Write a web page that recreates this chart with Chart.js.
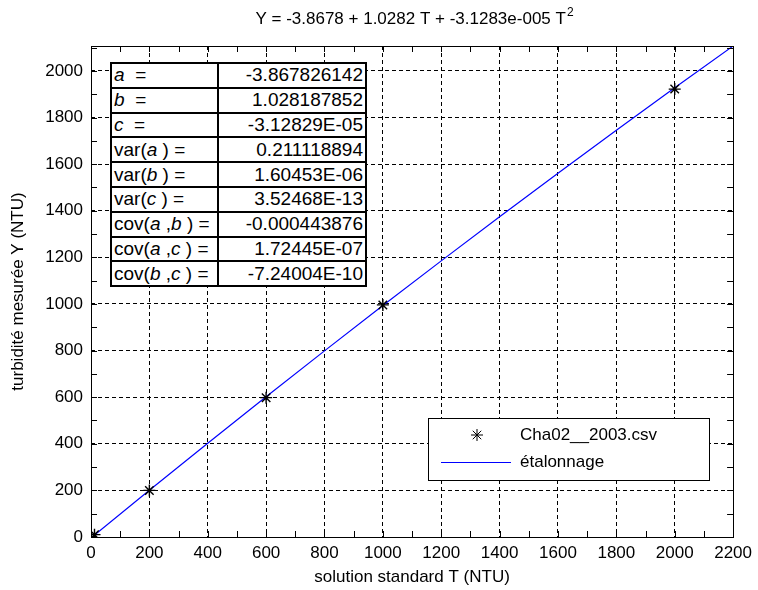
<!DOCTYPE html>
<html>
<head>
<meta charset="utf-8">
<script src="https://cdn.jsdelivr.net/npm/chart.js@4.4.0/dist/chart.umd.min.js"></script>
<style>
  body { margin: 0; background: #fff; }
  #wrap { position: relative; width: 758px; height: 590px; }
  #coefTable {
    position: absolute; left: 110px; top: 62px;
    border-collapse: collapse; background: #fff;
    font-family: Arial, "Liberation Sans", sans-serif; font-size: 19px; color: #000;
  }
  #coefTable td { border: 2px solid #000; height: 22.8px; padding: 0 2px; line-height: 22px; white-space: nowrap; }
  #coefTable td.lbl { width: 101px; text-align: left; }
  #coefTable td.val { width: 142px; text-align: right; }
</style>
</head>
<body>
<div id="wrap">
  <canvas id="calib" width="758" height="590"></canvas>
  <table id="coefTable"></table>
</div>
<script>
(() => {
// Calibration measurements
const calT = [12, 200, 600, 1000, 2000];
const calY = [10, 200, 598, 996, 1922];

// Fitted curve (étalonnage)
const fitT = [0, 200, 400, 600, 800, 1000, 1200, 1400, 1600, 1800, 2000, 2200];
const fitY = [-3.9, 200.5, 402.4, 601.8, 798.7, 993.0, 1184.9, 1374.3, 1561.2, 1745.5, 1927.4, 2106.7];

const xTickLabels = ["0", "200", "400", "600", "800", "1000", "1200", "1400", "1600", "1800", "2000", "2200"];
const yTickLabels = ["0", "200", "400", "600", "800", "1000", "1200", "1400", "1600", "1800", "2000"];

// Coefficient table
const paramNames = ["a", "b", "c", "var(a)", "var(b)", "var(c)", "cov(a,b)", "cov(a,c)", "cov(b,c)"];
const paramValues = ["-3.867826142", "1.028187852", "-3.12829E-05", "0.211118894", "1.60453E-06",
  "3.52468E-13", "-0.000443876", "1.72445E-07", "-7.24004E-10"];

const titleText = "Y = -3.8678 + 1.0282 T + -3.1283e-005 T";
const titleSup = "2";
const seriesLabels = ["Cha02__2003.csv", "étalonnage"];

const FONT = 'Arial, "Liberation Sans", sans-serif';

// build the table of fit parameters
const table = document.getElementById("coefTable");
paramNames.forEach((name, i) => {
  let html = name.replace(/\b([abc])\b/g, "<i>$1</i>").replace(/,/g, " ,").replace(/\)/g, " )");
  html += name.length === 1 ? "&nbsp;&nbsp;=" : " =";
  const tr = document.createElement("tr");
  tr.innerHTML = `<td class="lbl">${html}</td><td class="val">${paramValues[i]}</td>`;
  table.appendChild(tr);
});

// inside ticks, frame, title and legend box
const matlabFrame = {
  id: "matlabFrame",
  afterDatasetsDraw(chart) {
    const { ctx, chartArea: a, scales: { x, y } } = chart;
    ctx.save();
    ctx.strokeStyle = "#000";
    ctx.lineWidth = 1;
    ctx.beginPath();
    for (let v = 0; v <= 2200; v += 100) {
      const px = Math.round(x.getPixelForValue(v)) + 0.5;
      ctx.moveTo(px, a.bottom); ctx.lineTo(px, a.bottom - 6);
      ctx.moveTo(px, a.top); ctx.lineTo(px, a.top + 6);
    }
    for (let v = 0; v <= 2100; v += 100) {
      const py = Math.round(y.getPixelForValue(v)) + 0.5;
      ctx.moveTo(a.left, py); ctx.lineTo(a.left + 6, py);
      ctx.moveTo(a.right, py); ctx.lineTo(a.right - 6, py);
    }
    ctx.stroke();
    ctx.strokeRect(Math.round(a.left) + 0.5, Math.round(a.top) + 0.5,
      Math.round(a.right - a.left), Math.round(a.bottom - a.top));

    // title
    ctx.fillStyle = "#000";
    ctx.font = `17px ${FONT}`;
    ctx.textBaseline = "alphabetic";
    const w1 = ctx.measureText(titleText).width;
    ctx.font = `12px ${FONT}`;
    const w2 = ctx.measureText(titleSup).width;
    const tx = 414 - (w1 + w2) / 2;
    ctx.font = `17px ${FONT}`;
    ctx.textAlign = "left";
    ctx.fillText(titleText, tx, 24);
    ctx.font = `12px ${FONT}`;
    ctx.fillText(titleSup, tx + w1 + 1, 16);

    // legend
    const lx = 428, ly = 418, lw = 281, lh = 62;
    ctx.fillStyle = "#fff";
    ctx.fillRect(lx, ly, lw, lh);
    ctx.strokeStyle = "#000";
    ctx.strokeRect(lx + 0.5, ly + 0.5, lw, lh);
    const ds = chart.data.datasets;
    Chart.helpers.drawPoint(ctx, { pointStyle: "star", radius: 6, borderWidth: 1.4 }, lx + 49, ly + 17);
    ctx.strokeStyle = ds[1].borderColor;
    ctx.lineWidth = 1.2;
    ctx.beginPath();
    ctx.moveTo(lx + 13, ly + 44.5); ctx.lineTo(lx + 83, ly + 44.5);
    ctx.stroke();
    ctx.fillStyle = "#000";
    ctx.font = `17px ${FONT}`;
    ctx.textBaseline = "middle";
    ctx.fillText(ds[0].label, lx + 92, ly + 17);
    ctx.fillText(ds[1].label, lx + 92, ly + 44);
    ctx.restore();
  }
};

new Chart(document.getElementById("calib"), {
  type: "scatter",
  data: {
    datasets: [
      {
        label: seriesLabels[0],
        data: calT.map((t, i) => ({ x: t, y: calY[i] })),
        pointStyle: "star",
        pointRadius: 6,
        borderColor: "#000",
        backgroundColor: "#000",
        borderWidth: 1.4,
        showLine: false
      },
      {
        label: seriesLabels[1],
        data: fitT.map((t, i) => ({ x: t, y: fitY[i] })),
        showLine: true,
        borderColor: "#0000ff",
        borderWidth: 1.2,
        pointRadius: 0,
        tension: 0
      }
    ]
  },
  options: {
    responsive: false,
    animation: false,
    layout: { padding: { top: 46, right: 21, left: 0, bottom: 0 } },
    plugins: { legend: { display: false }, tooltip: { enabled: false } },
    scales: {
      x: {
        type: "linear", min: 0, max: 2200,
        afterFit: s => { s.height = 53; },
        afterBuildTicks: s => { s.ticks = xTickLabels.map(v => ({ value: Number(v) })); },
        ticks: { color: "#000", font: { family: FONT, size: 17 }, padding: 6, maxRotation: 0, autoSkip: false,
          callback: (v, i) => xTickLabels[i] },
        grid: { color: "#000", lineWidth: 1, drawTicks: false },
        border: { display: false, dash: [4, 3] },
        title: { display: true, text: "solution standard T (NTU)", color: "#000",
          font: { family: FONT, size: 17 }, padding: { top: 0, bottom: 2 } }
      },
      y: {
        type: "linear", min: 0, max: 2107,
        afterFit: s => { s.width = 91; },
        afterBuildTicks: s => { s.ticks = yTickLabels.map(v => ({ value: Number(v) })); },
        ticks: { color: "#000", font: { family: FONT, size: 17 }, padding: 8, autoSkip: false,
          callback: (v, i) => yTickLabels[i] },
        grid: { color: "#000", lineWidth: 1, drawTicks: false },
        border: { display: false, dash: [4, 3] },
        title: { display: true, text: "turbidité mesurée Y (NTU)", color: "#000",
          font: { family: FONT, size: 17 }, padding: { top: 8, bottom: 0 } }
      }
    }
  },
  plugins: [matlabFrame]
});
})();
</script>
</body>
</html>
